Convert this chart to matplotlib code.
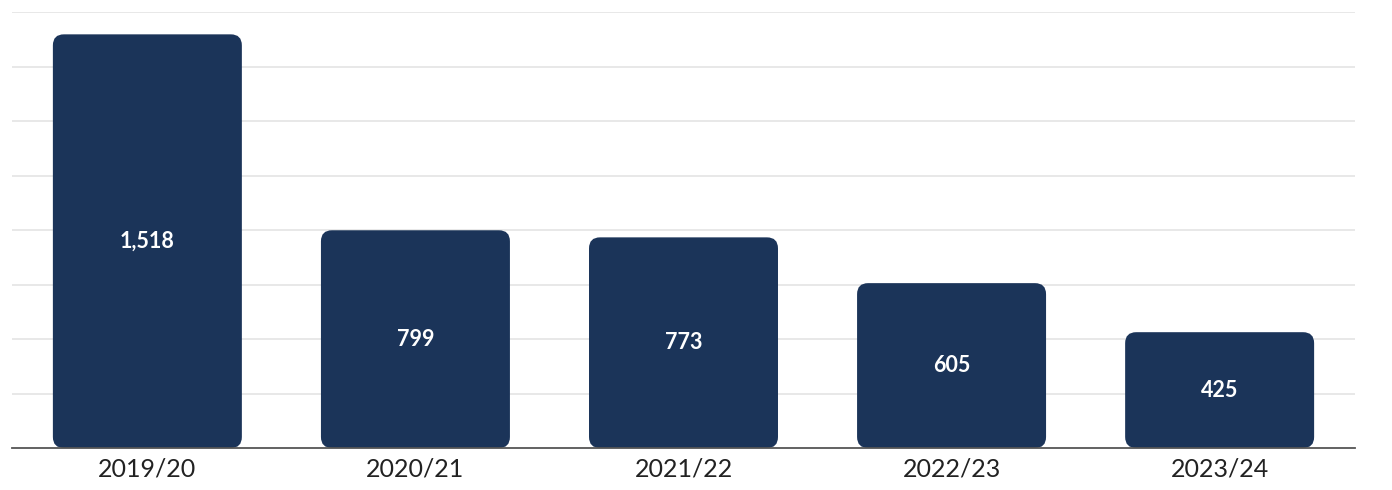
import matplotlib
matplotlib.use('Agg')
import matplotlib.pyplot as plt
from matplotlib.patches import FancyBboxPatch

years = ['2019/20', '2020/21', '2021/22', '2022/23', '2023/24']
counts = [1518, 799, 773, 605, 425]
value_labels = ['1,518', '799', '773', '605', '425']

bar_color = '#1b3459'
plt.rcParams['font.family'] = ['Lato', 'DejaVu Sans']

fig = plt.figure(figsize=(13.92, 4.9), dpi=100)
ax = fig.add_axes([12/1392, 42/490, 1343/1392, 436/490])
ax.set_xlim(-0.505, 4.505)
ax.set_ylim(0, 1600)

# pixels per data unit, used to get round corners that look circular
px_x = 1343 / (ax.get_xlim()[1] - ax.get_xlim()[0])
px_y = 436 / 1600
radius_px = 11
width = 0.705

for i, (v, lab) in enumerate(zip(counts, value_labels)):
    box = FancyBboxPatch((i - width/2, 0), width, v,
                         boxstyle='round,pad=0,rounding_size=%f' % (radius_px / px_x),
                         mutation_aspect=px_x / px_y,
                         facecolor=bar_color, edgecolor='none', zorder=3)
    ax.add_patch(box)
    ax.text(i, v/2, lab, ha='center', va='center', color='white',
            fontsize=15.5, fontweight='bold', zorder=4)

ax.set_yticks(range(200, 1601, 200))
ax.yaxis.grid(True, color='#e2e2e2', linewidth=1.1, zorder=0)
ax.tick_params(axis='y', left=False, labelleft=False)
ax.set_xticks(range(len(years)))
ax.set_xticklabels(years, fontsize=18, color='#222222')
ax.tick_params(axis='x', length=0, pad=7)

for s in ['top', 'right', 'left']:
    ax.spines[s].set_visible(False)
ax.spines['bottom'].set_color('#555555')
ax.spines['bottom'].set_linewidth(1.3)
ax.spines['bottom'].set_zorder(5)

fig.savefig('out.png', dpi=100)
